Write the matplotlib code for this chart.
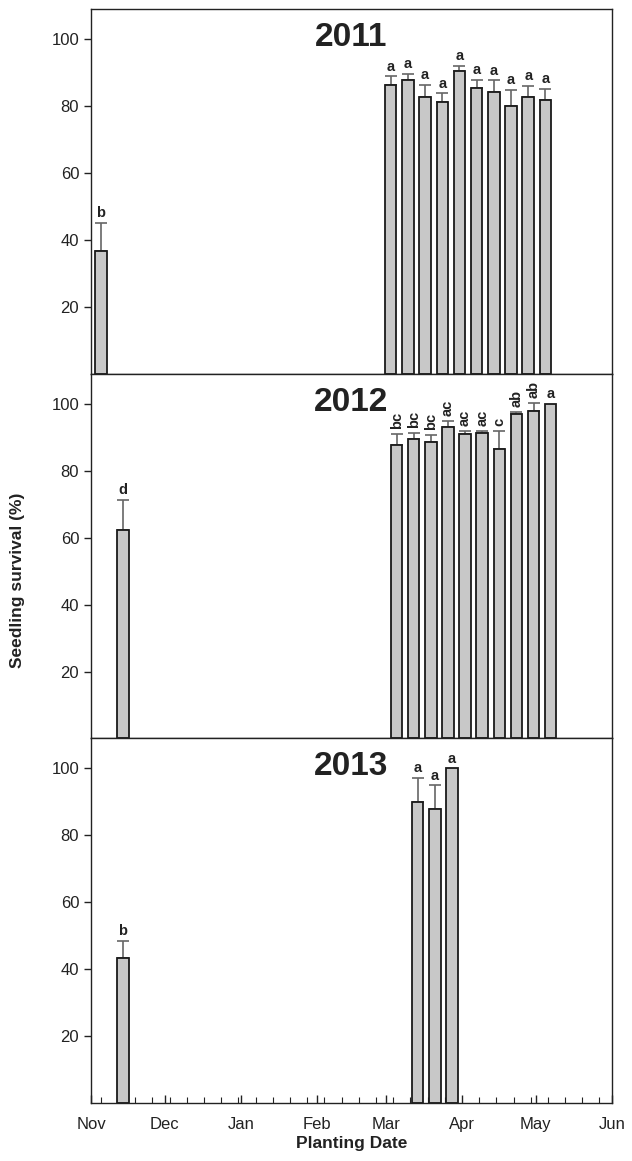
import numpy as np
import matplotlib
matplotlib.use("Agg")
import matplotlib.pyplot as plt
import matplotlib.dates as mdates
import pandas as pd

plt.rcParams['font.family'] = ['Liberation Sans', 'DejaVu Sans']

# planting dates, mean survival (%), upper SE and letter groups for each season
dates_2011 = ['2010-11-05', '2011-03-03', '2011-03-10', '2011-03-17', '2011-03-24', '2011-03-31',
              '2011-04-07', '2011-04-14', '2011-04-21', '2011-04-28', '2011-05-05']
surv_2011 = [36.8, 86.5, 87.9, 82.9, 81.2, 90.6, 85.4, 84.2, 80.2, 82.9, 82.0]
se_2011 = [8.4, 2.5, 1.7, 3.6, 2.7, 1.5, 2.5, 3.6, 4.8, 3.3, 3.3]
let_2011 = ['b', 'a', 'a', 'a', 'a', 'a', 'a', 'a', 'a', 'a', 'a']

dates_2012 = ['2011-11-14', '2012-03-05', '2012-03-12', '2012-03-19', '2012-03-26', '2012-04-02',
              '2012-04-09', '2012-04-16', '2012-04-23', '2012-04-30', '2012-05-07']
surv_2012 = [62.3, 87.7, 89.5, 88.6, 93.2, 91.0, 91.2, 86.4, 97.0, 97.8, 100.0]
se_2012 = [9.1, 3.2, 1.7, 2.2, 1.8, 0.9, 0.8, 5.6, 0.6, 2.4, 0.0]
let_2012 = ['d', 'bc', 'bc', 'bc', 'ac', 'ac', 'ac', 'c', 'ab', 'ab', 'a']

dates_2013 = ['2012-11-14', '2013-03-14', '2013-03-21', '2013-03-28']
surv_2013 = [43.3, 90.1, 88.0, 100.0]
se_2013 = [5.1, 7.1, 7.0, 0.0]
let_2013 = ['b', 'a', 'a', 'a']

seasons = [('2011', dates_2011, surv_2011, se_2011, let_2011),
           ('2012', dates_2012, surv_2012, se_2012, let_2012),
           ('2013', dates_2013, surv_2013, se_2013, let_2013)]

fig = plt.figure(figsize=(6.32, 11.61), dpi=100)
left, width = 0.144, 0.824
height = 0.314
bottoms = [0.050 + 2 * height, 0.050 + height, 0.050]

for k, (yr, d, s, e, lets) in enumerate(seasons):
    ax = fig.add_axes([left, bottoms[k], width, height])
    x = mdates.date2num(pd.to_datetime(d))
    s = np.array(s)
    e = np.array(e)
    ax.bar(x, s, width=4.7, color='#c8c8c8', edgecolor='#1a1a1a', linewidth=1.3, zorder=2)
    has_err = e > 0
    ax.errorbar(x[has_err], s[has_err], yerr=[np.zeros(has_err.sum()), e[has_err]],
                fmt='none', ecolor='#666666', elinewidth=1.2, capsize=4, capthick=1.2, zorder=1)
    for xi, top, lab in zip(x, s + e, lets):
        # multi-letter groups are stood on end to fit over the narrow bars
        rot = 90 if (len(lab) > 1 or lab == 'c') else 0
        ax.text(xi, top + (1.5 if rot else 0.8), lab, ha='center', va='bottom', rotation=rot,
                fontsize=10.5, fontweight='bold', color='#222222')

    start = pd.Timestamp(int(yr) - 1, 11, 1)
    end = pd.Timestamp(int(yr), 6, 1)
    ax.set_xlim(mdates.date2num(start), mdates.date2num(end))
    ax.set_ylim(0, 109)
    ax.set_yticks([20, 40, 60, 80, 100])
    ax.tick_params(axis='y', direction='out', length=5, width=1, labelsize=12, colors='#222222')
    ax.xaxis.set_major_locator(mdates.MonthLocator())
    ax.xaxis.set_major_formatter(mdates.DateFormatter('%b'))
    weeks = pd.date_range(start + pd.Timedelta(days=4), end, freq='7D')
    ax.set_xticks(mdates.date2num(weeks), minor=True)
    ax.tick_params(axis='x', which='major', direction='in', length=6, width=1, labelsize=12,
                   colors='#222222', pad=10)
    ax.tick_params(axis='x', which='minor', direction='in', length=4, width=0.8, colors='#222222')
    if k < 2:
        ax.tick_params(axis='x', which='both', labelbottom=False, length=0)
    for sp in ax.spines.values():
        sp.set_linewidth(1.0)
        sp.set_color('#222222')
    ax.text(0.5, 0.965, yr, transform=ax.transAxes, ha='center', va='top',
            fontsize=24, fontweight='bold', color='#222222')
    if k == 2:
        ax.set_xlabel('Planting Date', fontsize=12.5, fontweight='bold', color='#222222', labelpad=3)

fig.text(0.028, 0.5, 'Seedling survival (%)', rotation=90, ha='center', va='center',
         fontsize=12.5, fontweight='bold', color='#222222')

fig.savefig('out.png', dpi=100)
